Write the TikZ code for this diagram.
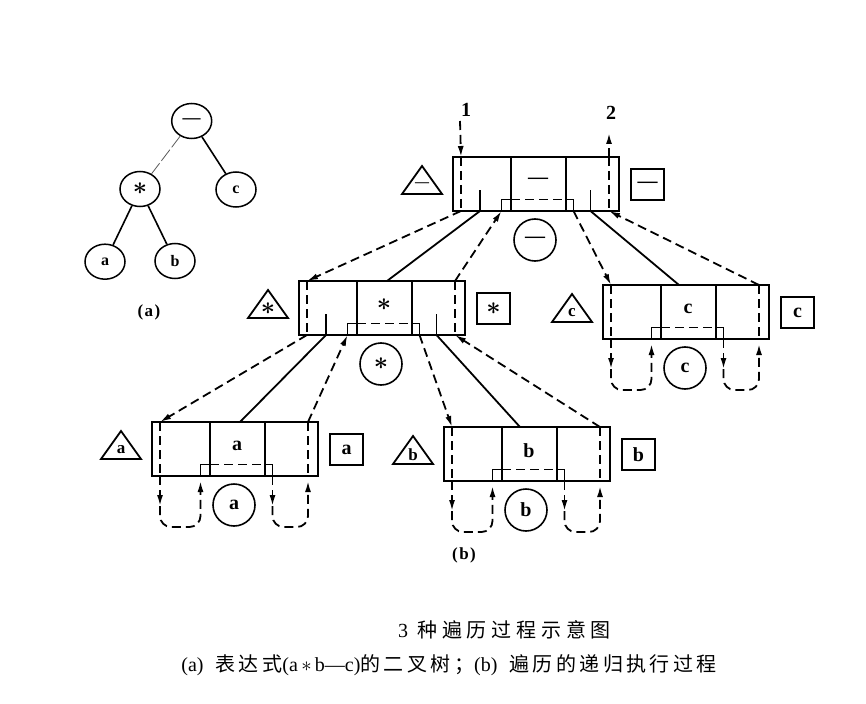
\documentclass[tikz,border=0pt]{standalone}
\usepackage{fontspec}
\setmainfont{Liberation Serif}
\newfontfamily\cjk[LetterSpace=24]{Noto Sans CJK SC}
\newfontfamily\cjksub[LetterSpace=17]{Noto Sans CJK SC}
\usetikzlibrary{arrows.meta,calc,shapes.geometric}

\tikzset{
  boxline/.style={line width=1.8pt},
  dashline/.style={line width=1.8pt, dash pattern=on 9pt off 5pt},
  tip/.style={-{Latex[length=11pt,width=6pt]}},
  lbl/.style={inner sep=0pt, font=\fontsize{20}{20}\selectfont\bfseries},
  tlbl/.style={inner sep=0pt, font=\fontsize{17}{17}\selectfont\bfseries},
  sqbox/.style={draw, line width=1.8pt, minimum width=33pt, minimum height=31pt, inner sep=0pt, font=\fontsize{20}{20}\selectfont\bfseries},
  circnode/.style={draw, circle, line width=1.6pt, minimum size=42pt, inner sep=0pt, font=\fontsize{20}{20}\selectfont\bfseries},
  treenode/.style={draw, ellipse, line width=1.5pt, minimum width=40pt, minimum height=35pt, inner sep=0pt, font=\fontsize{16}{16}\selectfont\bfseries},
  treeedge/.style={line width=1.6pt},
  faintedge/.style={line width=0.8pt, black!65, dash pattern=on 14pt off 3pt},
}

\newcommand\strsym{{\fontsize{24}{24}\selectfont\boldmath$\ast$}}
\newcommand\smdash{{\fontsize{14}{14}\selectfont\bfseries —}}

% #1 name, #2 left x, #3 top y, #4 label, #5 triangle label
\newcommand\frbox[5]{%
  \draw[boxline] (#2,#3) rectangle ++(166,54);
  \draw[boxline] ({#2+58},#3) -- ++(0,54);
  \draw[boxline] ({#2+113},#3) -- ++(0,54);
  \draw[boxline] ({#2+48.5},{#3+54}) |- ({#2+58},{#3+42.5});
  \draw[boxline] ({#2+120.5},{#3+54}) |- ({#2+113},{#3+42.5});
  \draw[dashline] ({#2+58},{#3+42.5}) -- ({#2+113},{#3+42.5});
  \draw[dashline] ({#2+8},#3) -- ++(0,54);
  \draw[dashline] ({#2+156},#3) -- ++(0,54);
  \node[lbl] (#1-m) at ({#2+85},{#3+24}) {#4};
  \draw[boxline, line join=miter] ({#2-51},{#3+37}) -- ({#2-31},{#3+9}) -- ({#2-11},{#3+37}) -- cycle;
  \node[tlbl] (#1-t) at ({#2-31},{#3+28}) {#5};
  \node[sqbox] (#1-s) at ({#2+194.5},{#3+27.5}) {#4};
  \node[circnode] (#1-c) at ({#2+82},{#3+83}) {#4};
  \coordinate (#1-in) at ({#2+8},#3);
  \coordinate (#1-out) at ({#2+156},#3);
  \coordinate (#1-inb) at ({#2+8},{#3+54});
  \coordinate (#1-outb) at ({#2+156},{#3+54});
  \coordinate (#1-nl) at ({#2+48.5},{#3+54});
  \coordinate (#1-nr) at ({#2+120.5},{#3+54});
  \coordinate (#1-tl) at ({#2+88},#3);
  \coordinate (#1-tr) at ({#2+76},#3);
  \coordinate (#1-sl) at ({#2+27},{#3+54});
  \coordinate (#1-sr) at ({#2+137.5},{#3+54});
}
\newcommand\innerlines[1]{%
  \draw[boxline] (#1-sl) -- ++(0,-21);
  \draw[boxline] (#1-sr) -- ++(0,-21);
}
\newcommand\leafloops[1]{%
  \draw[dashline, tip] (#1-inb) -- ++(0,30);
  \draw[dashline, tip, rounded corners=11pt] ($(#1-inb)+(0,30)$) -- ($(#1-inb)+(0,51)$) -- ($(#1-nl)+(0,51)$) -- ($(#1-nl)+(0,5)$);
  \draw[dashline, tip] (#1-nr) -- ++(0,30);
  \draw[dashline, tip, rounded corners=11pt] ($(#1-nr)+(0,30)$) -- ($(#1-nr)+(0,51)$) -- ($(#1-outb)+(0,51)$) -- ($(#1-outb)+(0,5)$);
}

\begin{document}
\begin{tikzpicture}[x=1pt,y=-1pt]
\useasboundingbox (0,0) rectangle (866,703);

% ---- (a) tree
\node[treenode] (r) at (191.7,121) {\fontsize{18}{18}\selectfont —};
\node[treenode] (ts) at (140,189) {\strsym};
\node[treenode] (tc) at (236,189.5) {c};
\node[treenode] (ta) at (105,261.7) {a};
\node[treenode] (tb) at (175,261) {b};
\draw[faintedge] (r) -- (ts);
\draw[treeedge] (r) -- (tc);
\draw[treeedge] (ts) -- (ta);
\draw[treeedge] (ts) -- (tb);
\node[inner sep=0pt, font=\fontsize{17}{17}\selectfont\bfseries] (capa) at (149,312) {(\kern1.5pt a\kern1.5pt)};

% ---- (b) frames
\frbox{T}{453}{157}{—}{\smdash}
\frbox{S}{299}{281}{\strsym}{\strsym}
\frbox{C}{603}{285}{c}{c}
\frbox{A}{152}{422}{a}{a}
\frbox{B}{444}{427}{b}{b}
\innerlines{T}
\innerlines{S}
\leafloops{C}
\leafloops{A}
\leafloops{B}

% entry / exit
\node[lbl] (one) at (466,110) {1};
\node[lbl] (two) at (611,113) {2};
\coordinate (onestart) at (460,121);
\coordinate (twoend) at (609,133);
\draw[dashline, tip] (onestart) -- (T-in);
\draw[dashline, tip] (T-out) -- (twoend);

% T -> S, C
\draw[dashline, tip] (T-inb) -- (S-in);
\draw[boxline] (T-sl) -- (S-tl);
\draw[dashline, tip] (S-out) -- (T-nl);
\draw[dashline, tip] (T-nr) -- (C-in);
\draw[boxline] (T-sr) -- (C-tr);
\draw[dashline, tip] (C-out) -- (T-outb);

% S -> A, B
\draw[dashline, tip] (S-inb) -- (A-in);
\draw[boxline] (S-sl) -- (A-tl);
\draw[dashline, tip] (A-out) -- (S-nl);
\draw[dashline, tip] (S-nr) -- (B-in);
\draw[boxline] (S-sr) -- (B-tr);
\draw[dashline, tip] (B-out) -- (S-outb);

\node[inner sep=0pt, font=\fontsize{17}{17}\selectfont\bfseries] (capb) at (464,555) {(\kern1.5pt b\kern1.5pt)};

% ---- captions
\node[inner sep=0pt, font=\cjk\fontsize{20}{20}\selectfont] (title) at (504.5,630) {{\rmfamily 3}\hspace{9pt}种遍历过程示意图};
\node[inner sep=0pt, font=\cjksub\fontsize{20}{20}\selectfont] (sub) at (449,665) {{\rmfamily (a)}\hspace{12pt}表达式{\rmfamily (a\,$\ast$\,b—c)}的二叉树；{\rmfamily (b)}\hspace{12pt}遍历的递归执行过程};
\end{tikzpicture}
\end{document}
